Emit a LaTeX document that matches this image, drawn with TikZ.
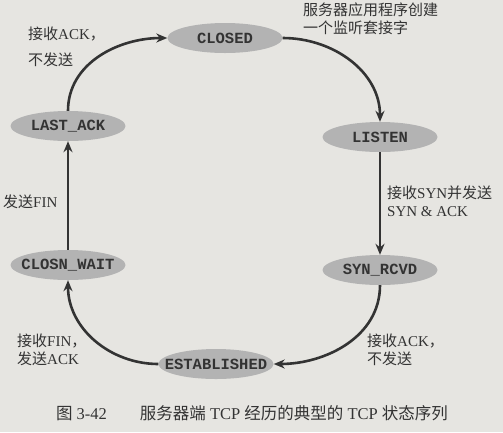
\documentclass[tikz,border=0pt]{standalone}
\usepackage{fontspec}
\setmainfont{Liberation Serif}
\setmonofont{Liberation Mono}
\newfontfamily\cjk{Noto Sans CJK SC}
\usetikzlibrary{arrows.meta,shapes.geometric}
\definecolor{paper}{HTML}{E6E5E1}
\definecolor{stategray}{HTML}{B3B3B3}
\definecolor{ink}{HTML}{333333}
\newcommand{\zh}[1]{{\cjk #1}}
\newcommand{\stname}[1]{\makebox[0pt]{\ttfamily\bfseries #1}}

\begin{document}
\begin{tikzpicture}[x=1pt,y=-1pt,
  tcpstate/.style={ellipse,fill=stategray,minimum width=115pt,minimum height=30pt,
    inner sep=0pt,text=ink,font=\fontsize{15.5}{18}\selectfont},
  note/.style={anchor=west,align=left,inner sep=0pt,text=ink,
    font=\fontsize{15}{18}\selectfont},
  flow/.style={-{Stealth[length=11pt,width=9pt]},line width=2.6pt,draw=ink}]

  \fill[paper] (0,0) rectangle (503,432);
  \useasboundingbox (0,0) rectangle (503,432);

  % states
  \node[tcpstate] (closed)      at (225,38)  {\stname{CLOSED}};
  \node[tcpstate] (listen)      at (380,137) {\stname{LISTEN}};
  \node[tcpstate] (synrcvd)     at (380,270) {\stname{SYN\_RCVD}};
  \node[tcpstate] (established) at (216,364) {\stname{ESTABLISHED}};
  \node[tcpstate] (closnwait)   at (68,265)  {\stname{CLOSN\_WAIT}};
  \node[tcpstate] (lastack)     at (68,126)  {\stname{LAST\_ACK}};

  % transitions
  \path[flow]
    (lastack)     edge[out=90,in=180]  (closed)
    (closed)      edge[out=0,in=90]    (listen)
    (listen)      edge                 (synrcvd)
    (synrcvd)     edge[out=-90,in=0]   (established)
    (established) edge[out=180,in=-90] (closnwait)
    (closnwait)   edge                 (lastack);

  % labels
  \node[note] (lastacklbl)  at (28,47)  {\zh{接收}ACK\zh{，}\\[8pt]\zh{不发送}};
  \node[note] (closedlbl)   at (303,19) {\zh{服务器应用程序创建}\\\zh{一个监听套接字}};
  \node[note] (listenlbl)   at (387,201) {\zh{接收}SYN\zh{并发送}\\SYN \& ACK};
  \node[note] (closnlbl)    at (3,202)  {\zh{发送}FIN};
  \node[note] (estlbl)      at (17,350) {\zh{接收}FIN\zh{，}\\\zh{发送}ACK};
  \node[note] (synlbl)      at (367,350) {\zh{接收}ACK\zh{，}\\\zh{不发送}};

  \node[text=ink,font=\fontsize{16.5}{20}\selectfont] (caption) at (252,413)
    {\zh{图} 3-42\hspace{2em}\zh{服务器端} TCP \zh{经历的典型的} TCP \zh{状态序列}};
\end{tikzpicture}
\end{document}
